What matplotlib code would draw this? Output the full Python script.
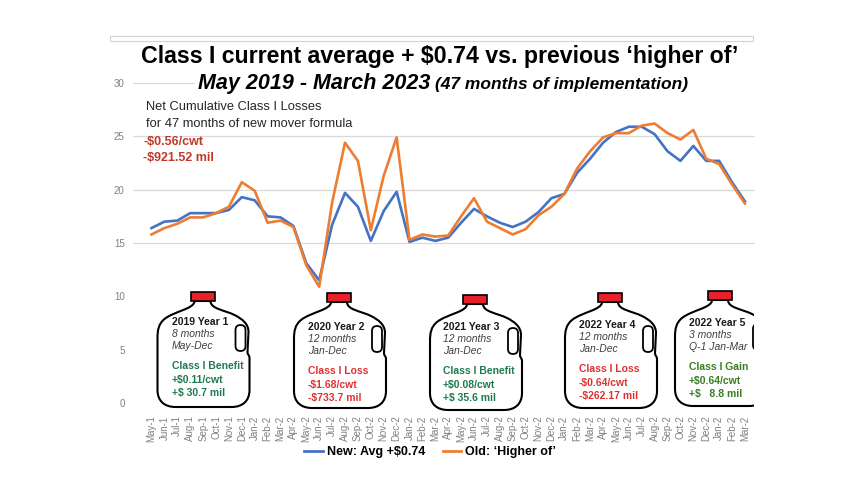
import matplotlib
matplotlib.use("Agg")
import matplotlib.pyplot as plt
from matplotlib import font_manager
from matplotlib.path import Path
from matplotlib.patches import PathPatch, Rectangle, FancyBboxPatch
from matplotlib.lines import Line2D

# data ($/cwt)
month_labels = ["May-1", "Jun-1", "Jul-1", "Aug-1", "Sep-1", "Oct-1", "Nov-1", "Dec-1",
                "Jan-2", "Feb-2", "Mar-2", "Apr-2", "May-2", "Jun-2", "Jul-2", "Aug-2",
                "Sep-2", "Oct-2", "Nov-2", "Dec-2",
                "Jan-2", "Feb-2", "Mar-2", "Apr-2", "May-2", "Jun-2", "Jul-2", "Aug-2",
                "Sep-2", "Oct-2", "Nov-2", "Dec-2",
                "Jan-2", "Feb-2", "Mar-2", "Apr-2", "May-2", "Jun-2", "Jul-2", "Aug-2",
                "Sep-2", "Oct-2", "Nov-2", "Dec-2",
                "Jan-2", "Feb-2", "Mar-2"]
new_avg = [16.4, 17.0, 17.1, 17.8, 17.8, 17.8, 18.1, 19.3, 19.0, 17.5, 17.4, 16.6,
           13.1, 11.5, 16.7, 19.7, 18.4, 15.2, 18.0, 19.8, 15.1, 15.5, 15.2, 15.5,
           16.9, 18.2, 17.5, 16.9, 16.5, 17.0, 17.9, 19.2, 19.6, 21.6, 22.9, 24.4,
           25.4, 25.9, 25.9, 25.2, 23.6, 22.7, 24.1, 22.7, 22.7, 20.7, 18.9]
old_higher = [15.8, 16.4, 16.8, 17.4, 17.4, 17.8, 18.4, 20.7, 19.9, 16.9, 17.1, 16.5,
              12.9, 10.9, 18.8, 24.4, 22.7, 16.2, 21.3, 24.9, 15.3, 15.8, 15.6, 15.7,
              17.5, 19.2, 17.0, 16.4, 15.8, 16.3, 17.6, 18.4, 19.6, 22.0, 23.6, 24.9,
              25.3, 25.3, 26.0, 26.2, 25.3, 24.7, 25.6, 22.9, 22.4, 20.5, 18.7]

jug_titles = ["2019 Year 1", "2020 Year 2", "2021 Year 3", "2022 Year 4", "2022 Year 5"]
jug_months = ["8 months", "12 months", "12 months", "12 months", "3 months"]
jug_spans = ["May-Dec", "Jan-Dec", "Jan-Dec", "Jan-Dec", "Q-1 Jan-Mar"]
jug_results = ["Class I Benefit", "Class I Loss", "Class I Benefit", "Class I Loss", "Class I Gain"]
jug_cwt = ["+$0.11/cwt", "-$1.68/cwt", "+$0.08/cwt", "-$0.64/cwt", "+$0.64/cwt"]
jug_mil = ["+$ 30.7 mil", "-$733.7 mil", "+$ 35.6 mil", "-$262.17 mil", "+$   8.8 mil"]

# layout of the jugs (pixels)
jug_cx = [202.5, 339, 475, 610, 720]
jug_top = [292, 293, 295, 293, 291]
text_left = [172, 308, 443, 579, 689]
text_y0 = [322, 327, 327, 325, 323]
jug_colors = ["#1e7a50", "#e03131", "#1e7a50", "#e03131", "#3a7d22"]

names = {f.name for f in font_manager.fontManager.ttflist}
sans = "Liberation Sans" if "Liberation Sans" in names else "DejaVu Sans"
narrow = "Liberation Sans Narrow" if "Liberation Sans Narrow" in names else None
plt.rcParams["font.family"] = sans

BLUE = "#4472c4"
ORANGE = "#ed7d31"
GRID = "#d9d9d9"
TICK = "#808080"

fig = plt.figure(figsize=(8.64, 5.04), dpi=100)
ax = fig.add_axes([133 / 864, 101 / 504, 622 / 864, 320 / 504])
x = list(range(len(month_labels)))
ax.plot(x, new_avg, color=BLUE, lw=1.9, label="New: Avg +$0.74")
ax.plot(x, old_higher, color=ORANGE, lw=1.9, label="Old: \u2018Higher of\u2019")
ax.set_xlim(-1.434, 46.78)
ax.set_ylim(0, 30)
ax.set_yticks(range(0, 31, 5))
ax.set_xticks(x)
ax.set_xticklabels(month_labels, rotation=90, va="top", ha="center")
ax.tick_params(axis="both", length=0, labelsize=7, labelcolor=TICK)
ax.tick_params(axis="x", pad=9)
ax.tick_params(axis="y", pad=6)
ax.grid(axis="y", color=GRID, lw=0.9)
ax.set_axisbelow(True)
for s in ax.spines.values():
    s.set_visible(False)

# overlay in pixel coordinates for title, notes and jugs
ov = fig.add_axes([0, 0, 1, 1], zorder=2)
ov.set_xlim(0, 864)
ov.set_ylim(504, 0)
ov.axis("off")
ov.patch.set_alpha(0)

ov.add_patch(Rectangle((110, 36), 643, 5, facecolor="white", edgecolor="#d4d4d4", lw=0.8))
ov.add_patch(Rectangle((195, 68), 561, 28, facecolor="white", edgecolor="none"))

if narrow:
    ov.text(440, 63, "Class I current average + $0.74 vs. previous \u2018higher of\u2019",
            family=narrow, fontsize=20.5, fontweight="bold", ha="center", va="baseline")
    t1 = ov.text(0, 89, "May 2019 - March 2023", family=narrow, fontsize=18,
                 fontweight="bold", style="italic", va="baseline")
    t2 = ov.text(0, 89, "(47 months of implementation)", family=narrow, fontsize=14.5,
                 fontweight="bold", style="italic", va="baseline")
else:
    ov.text(440, 63, "Class I current average + $0.74 vs. previous \u2018higher of\u2019",
            fontsize=16.7, fontweight="bold", ha="center", va="baseline")
    t1 = ov.text(0, 89, "May 2019 - March 2023", fontsize=15.5,
                 fontweight="bold", style="italic", va="baseline")
    t2 = ov.text(0, 89, "(47 months of implementation)", fontsize=12.5,
                 fontweight="bold", style="italic", va="baseline")
r = fig.canvas.get_renderer()
w1 = t1.get_window_extent(r).width
w2 = t2.get_window_extent(r).width
x0 = 443 - (w1 + w2 + 5) / 2
t1.set_x(x0)
t2.set_x(x0 + w1 + 5)

ov.text(146, 107, "Net Cumulative Class I Losses", fontsize=9.3, color="#262626", va="center")
ov.text(146, 124, "for 47 months of new mover formula", fontsize=9.3, color="#262626", va="center")
ov.text(143, 142, "-$0.56/cwt", fontsize=9, fontweight="bold", color="#c0392b", va="center")
ov.text(143, 158, "-$921.52 mil", fontsize=9, fontweight="bold", color="#c0392b", va="center")

# white panel behind the jugs hides the low gridlines
ov.add_patch(Rectangle((128, 290), 628, 122, facecolor="white", edgecolor="none", zorder=0))


def draw_jug(cx, top):
    pts = [(-8, 9), (-8, 17), (-28, 19), (-38, 27), (-44, 32), (-45, 38), (-45, 46),
           (-45, 98), (-45, 109), (-38, 115), (-27, 115), (29, 115),
           (40, 115), (47, 109), (47, 98), (47, 66), (47, 63), (45, 63), (45, 60),
           (46, 40), (46, 32), (40, 27), (32, 23), (22, 18), (8, 17), (8, 9), (-8, 9)]
    codes = ([Path.MOVETO] + [Path.CURVE4] * 6 + [Path.LINETO] + [Path.CURVE4] * 3 +
             [Path.LINETO] + [Path.CURVE4] * 3 + [Path.LINETO] + [Path.CURVE4] * 3 +
             [Path.LINETO] + [Path.CURVE4] * 6 + [Path.CLOSEPOLY])
    verts = [(cx + dx, top + dy) for dx, dy in pts]
    ov.add_patch(PathPatch(Path(verts, codes), facecolor="white", edgecolor="black", lw=1.5, zorder=1))
    ov.add_patch(FancyBboxPatch((cx + 33, top + 33), 10, 26,
                                boxstyle="round,pad=0,rounding_size=5",
                                facecolor="white", edgecolor="black", lw=1.3, zorder=2))
    ov.add_patch(Rectangle((cx - 12, top), 24, 9, facecolor="#e8202a", edgecolor="black", lw=1.2, zorder=2))


line_dy = [0, 12.3, 24.2, 44, 58.4, 71]
for i in range(len(jug_titles)):
    draw_jug(jug_cx[i], jug_top[i])
    tx, ty = text_left[i], text_y0[i]
    ov.text(tx, ty + line_dy[0], jug_titles[i], fontsize=7.5, fontweight="bold", color="#1a1a1a", va="center", zorder=3)
    ov.text(tx, ty + line_dy[1], jug_months[i], fontsize=7.5, style="italic", color="#404040", va="center", zorder=3)
    ov.text(tx, ty + line_dy[2], jug_spans[i], fontsize=7.5, style="italic", color="#404040", va="center", zorder=3)
    for k, s in enumerate([jug_results[i], jug_cwt[i], jug_mil[i]]):
        ov.text(tx, ty + line_dy[3 + k], s, fontsize=7.5, fontweight="bold", color=jug_colors[i], va="center", zorder=3)

# the last jug is cut at the picture edge
ov.add_patch(Rectangle((754, 280), 110, 140, facecolor="white", edgecolor="none", zorder=5))

handles = [Line2D([], [], color=BLUE, lw=2), Line2D([], [], color=ORANGE, lw=2)]
fig.legend(handles, ["New: Avg +$0.74", "Old: \u2018Higher of\u2019"], loc="center",
           bbox_to_anchor=(430 / 864, 52 / 504), ncol=2, frameon=False,
           prop={"family": sans, "weight": "bold", "size": 9},
           handlelength=1.5, handletextpad=0.3, columnspacing=1.4)

fig.savefig("out.png", dpi=100)
